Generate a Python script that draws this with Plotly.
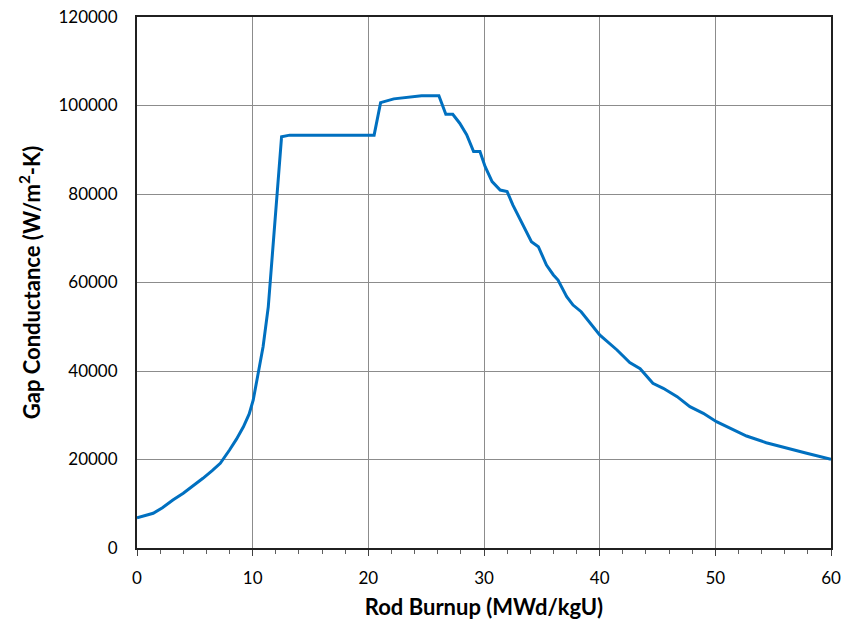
import plotly.graph_objects as go

burnup = [0.0, 0.7, 1.4, 2.2, 3.1, 4.0, 4.8, 5.7, 6.5, 7.2, 8.0, 8.6, 9.2, 9.7, 10.05, 10.5, 10.9,
          11.35, 11.7, 12.08, 12.5, 13.2,
          20.5, 21.06, 22.2, 24.6, 26.1, 26.7, 27.3, 27.9, 28.5, 29.1, 29.65, 30.1, 30.7, 31.4,
          32.0, 32.5, 34.1, 34.7, 35.4, 36.0, 36.4, 37.15, 37.7, 38.4, 39.2, 40.0, 41.5, 42.6,
          43.5, 44.6, 45.5, 46.7, 47.8, 48.96, 50.1, 51.3, 51.85, 52.7, 54.4, 56.2, 57.9, 60.0]
conductance = [6800, 7300, 7850, 9100, 10850, 12360, 13900, 15750, 17500, 19140, 22150, 24600,
               27400, 30300, 33450, 39480, 45500, 54500, 66000, 78600, 92950, 93300, 93300,
               100640, 101500, 102200, 102200, 98000, 98000, 96000,
               93400, 89600, 89600, 86180, 82790, 80900, 80530, 77500, 69200, 68100, 63950, 61700,
               60560, 56800, 54900, 53400, 50780, 48140, 44750, 41900, 40500, 37220, 36090, 34200,
               31930, 30430, 28540, 27050, 26510, 25310, 23800, 22530, 21400, 20050]

fig = go.Figure()
fig.add_trace(go.Scatter(x=burnup, y=conductance, mode="lines",
                         line=dict(color="#0070C0", width=3),
                         showlegend=False))

font_family = "Lato, Open Sans, Liberation Sans, sans-serif"
fig.update_layout(
    width=853, height=623,
    margin=dict(l=137, r=22, t=17, b=75, autoexpand=False),
    paper_bgcolor="white", plot_bgcolor="white",
    font=dict(family=font_family, size=17, color="black"),
)
fig.update_xaxes(
    range=[0, 60], dtick=10, tick0=0, automargin=False,
    showgrid=True, gridcolor="#8c8c8c", gridwidth=1,
    showline=True, linecolor="#202020", linewidth=2, mirror=True,
    ticks="outside", ticklen=6, tickcolor="#404040", ticklabelstandoff=8,
    minor=dict(dtick=2, ticks="outside", ticklen=4, tickcolor="#606060", showgrid=False),
    zeroline=False,
    title=dict(text="<b>Rod Burnup (MWd/kgU)</b>", font=dict(size=22), standoff=12),
)
fig.update_yaxes(
    range=[0, 120000], dtick=20000, tick0=0, automargin=False,
    showgrid=True, gridcolor="#8c8c8c", gridwidth=1,
    showline=True, linecolor="#202020", linewidth=2, mirror=True,
    ticks="", zeroline=False, tickformat="d", ticklabelstandoff=14,
    title=dict(text="<b>Gap Conductance (W/m<sup>2</sup>-K)</b>", font=dict(size=22), standoff=12),
)

fig.write_html("out.html")
